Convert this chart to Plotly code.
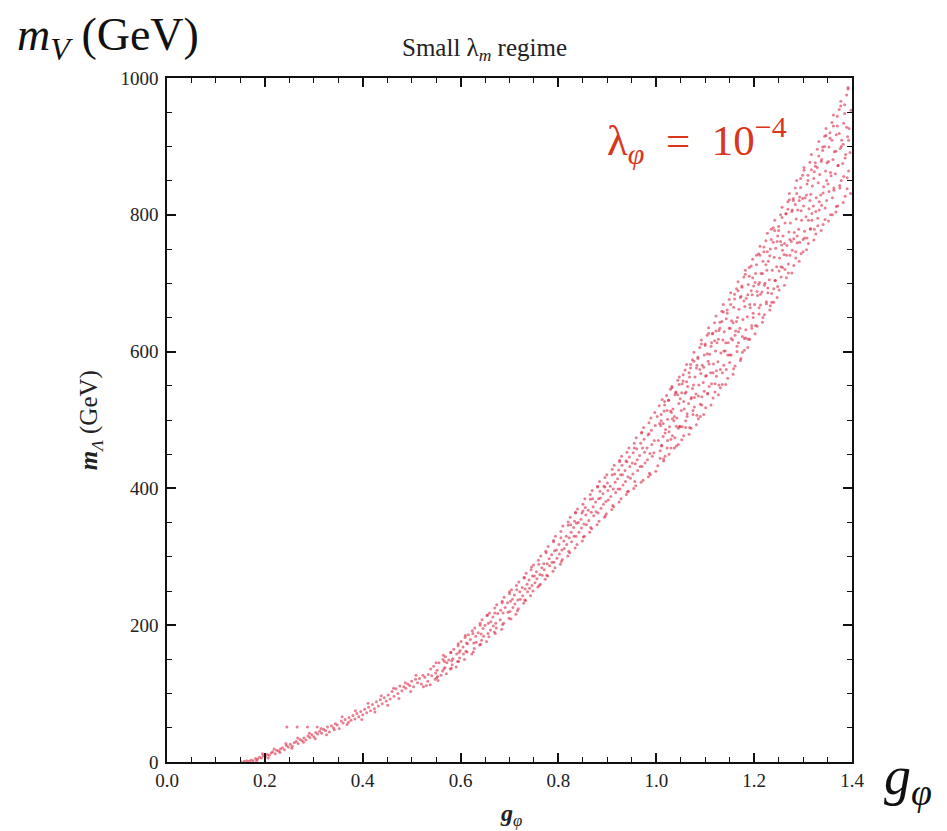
import plotly.graph_objects as go

# (g_phi, m_V in GeV), split by region
band_low = [
    (0.152, 0), (0.158, 1), (0.163, 2), (0.168, 1), (0.172, 3), (0.176, 2), (0.181, 5), (0.185, 4),
    (0.189, 7), (0.193, 6), (0.197, 9), (0.201, 8), (0.205, 11), (0.209, 10), (0.213, 13), (0.216, 15),
    (0.221, 12), (0.224, 17), (0.228, 16), (0.232, 19), (0.236, 21), (0.240, 18), (0.244, 24), (0.248, 22),
    (0.252, 26), (0.256, 23), (0.260, 28), (0.264, 30), (0.268, 27), (0.272, 33), (0.276, 31), (0.280, 35),
    (0.284, 32), (0.288, 38), (0.292, 36), (0.296, 40), (0.300, 37), (0.304, 43), (0.308, 41), (0.312, 45),
    (0.316, 42), (0.320, 48), (0.324, 46), (0.328, 51), (0.332, 44), (0.336, 53), (0.340, 50), (0.344, 56),
    (0.348, 54), (0.352, 49), (0.356, 60), (0.360, 57), (0.364, 62), (0.368, 55), (0.372, 65), (0.376, 61),
    (0.380, 68), (0.384, 63), (0.388, 71), (0.392, 66), (0.396, 74), (0.400, 69), (0.404, 77), (0.408, 72),
    (0.412, 80), (0.416, 75), (0.420, 84), (0.424, 78), (0.428, 88), (0.432, 82), (0.436, 91), (0.440, 85),
    (0.444, 94), (0.448, 89), (0.452, 98), (0.456, 92), (0.460, 103), (0.464, 96), (0.468, 107), (0.472, 100),
    (0.476, 111), (0.480, 104), (0.484, 110), (0.488, 108), (0.492, 114), (0.496, 112), (0.500, 118), (0.504, 110),
    (0.508, 121), (0.512, 116), (0.516, 122), (0.520, 114),
]

band_low_fill = [
    (0.183, 2), (0.195, 12), (0.207, 6), (0.219, 19), (0.231, 14), (0.243, 27), (0.255, 20), (0.267, 35),
    (0.279, 29), (0.291, 42), (0.303, 34), (0.315, 49), (0.326, 40), (0.342, 47), (0.358, 66), (0.371, 58),
    (0.385, 75), (0.398, 62), (0.411, 86), (0.425, 73), (0.438, 97), (0.451, 83), (0.463, 108), (0.474, 93),
    (0.487, 116), (0.498, 103), (0.509, 127),
]

band_stray = [(0.245, 51), (0.266, 51), (0.287, 51), (0.307, 51)]

band_mid = [
    (0.524, 110), (0.527, 124), (0.523, 127), (0.533, 118), (0.530, 112), (0.534, 128),
    (0.538, 113), (0.541, 126), (0.539, 136), (0.548, 121), (0.545, 140), (0.549, 130),
    (0.553, 125), (0.556, 145), (0.554, 119), (0.563, 133), (0.560, 127), (0.564, 150),
    (0.568, 138), (0.571, 129), (0.569, 154), (0.572, 145), (0.579, 136), (0.576, 149), (0.580, 160),
    (0.583, 142), (0.586, 165), (0.584, 151), (0.594, 147), (0.591, 139), (0.595, 170), (0.592, 158),
    (0.598, 152), (0.601, 176), (0.599, 163), (0.608, 150), (0.605, 168), (0.609, 182), (0.606, 158),
    (0.613, 161), (0.616, 186), (0.614, 173), (0.623, 158), (0.620, 179), (0.624, 192),
    (0.628, 166), (0.631, 184), (0.629, 196), (0.632, 175), (0.639, 171), (0.636, 189), (0.640, 203),
    (0.643, 178), (0.646, 195), (0.644, 208), (0.647, 184), (0.653, 176), (0.650, 200), (0.654, 214),
    (0.658, 183), (0.661, 193), (0.659, 218), (0.662, 205), (0.669, 190), (0.666, 212), (0.670, 225), (0.667, 199),
    (0.673, 196), (0.676, 217), (0.674, 230), (0.684, 194), (0.681, 208), (0.685, 235), (0.682, 222),
    (0.688, 203), (0.691, 226), (0.689, 241), (0.699, 210), (0.696, 233), (0.700, 246), (0.697, 219),
    (0.703, 209), (0.706, 238), (0.704, 252), (0.707, 226), (0.713, 216), (0.710, 244), (0.714, 258), (0.711, 231),
    (0.718, 224), (0.721, 249), (0.719, 263), (0.722, 238), (0.729, 232), (0.726, 255), (0.730, 270), (0.727, 243),
    (0.733, 236), (0.736, 260), (0.734, 276), (0.737, 249), (0.743, 243), (0.740, 266), (0.744, 281), (0.741, 254),
    (0.748, 250), (0.751, 272), (0.749, 288), (0.752, 262), (0.758, 256), (0.755, 278), (0.759, 295), (0.756, 268),
    (0.763, 260), (0.766, 284), (0.764, 301), (0.767, 273), (0.773, 267), (0.770, 290), (0.774, 308), (0.771, 281),
    (0.778, 272), (0.781, 297), (0.779, 315), (0.782, 287), (0.789, 279), (0.786, 303), (0.790, 322), (0.787, 292),
    (0.793, 284), (0.796, 310), (0.794, 330), (0.797, 298), (0.804, 289), (0.801, 318), (0.805, 337), (0.802, 304),
    (0.808, 296), (0.811, 323), (0.809, 345), (0.812, 312), (0.819, 301), (0.816, 330), (0.820, 351), (0.817, 318),
    (0.823, 306), (0.826, 336), (0.824, 358), (0.827, 322), (0.825, 347),
    (0.834, 313), (0.831, 343), (0.835, 364), (0.832, 330), (0.833, 352),
    (0.838, 318), (0.841, 350), (0.839, 370), (0.842, 336),
    (0.849, 323), (0.846, 355), (0.850, 377), (0.847, 342), (0.848, 364),
    (0.853, 330), (0.856, 361), (0.854, 385), (0.857, 347), (0.855, 372),
    (0.864, 336), (0.861, 368), (0.865, 391), (0.862, 353),
    (0.868, 341), (0.871, 373), (0.869, 397), (0.872, 360), (0.870, 385),
    (0.879, 347), (0.876, 380), (0.880, 403), (0.877, 366),
    (0.883, 352), (0.886, 386), (0.884, 410), (0.887, 371), (0.885, 396),
    (0.894, 358), (0.891, 392), (0.895, 416), (0.892, 377), (0.893, 403),
    (0.898, 363), (0.901, 397), (0.899, 420), (0.902, 383), (0.900, 408),
    (0.909, 369), (0.906, 403), (0.910, 428), (0.907, 388),
    (0.913, 373), (0.916, 409), (0.914, 434), (0.917, 394), (0.915, 421),
    (0.924, 380), (0.921, 414), (0.925, 441), (0.922, 399), (0.923, 427),
    (0.928, 385), (0.931, 420), (0.929, 447), (0.932, 405), (0.930, 434),
    (0.939, 391), (0.936, 426), (0.940, 453), (0.937, 410), (0.938, 440),
    (0.943, 396), (0.946, 432), (0.944, 459), (0.947, 415), (0.945, 446),
    (0.954, 400), (0.951, 437), (0.955, 466), (0.952, 421), (0.953, 452),
    (0.958, 404), (0.961, 442), (0.959, 474), (0.962, 426), (0.960, 458),
    (0.969, 409), (0.966, 448), (0.970, 482), (0.967, 432), (0.968, 466),
    (0.973, 412), (0.976, 453), (0.974, 489), (0.977, 437), (0.975, 472),
    (0.984, 417), (0.981, 459), (0.985, 496), (0.982, 442), (0.983, 478),
    (0.988, 420), (0.991, 464), (0.989, 503), (0.992, 447), (0.990, 485),
    (0.999, 425), (0.996, 470), (0.997, 511), (0.995, 452), (0.998, 492),
]

band_mid_fill = [
    (0.551, 123), (0.552, 134), (0.550, 145), (0.566, 136), (0.567, 147), (0.565, 156),
    (0.581, 137), (0.582, 148), (0.580, 160), (0.596, 147), (0.597, 160), (0.595, 173),
    (0.611, 162), (0.612, 174), (0.610, 185), (0.626, 161), (0.627, 174), (0.625, 188),
    (0.641, 172), (0.642, 187), (0.640, 200), (0.656, 188), (0.657, 203), (0.655, 215),
    (0.671, 188), (0.672, 203), (0.670, 218), (0.686, 201), (0.687, 218), (0.685, 233),
    (0.701, 220), (0.702, 235), (0.700, 249), (0.716, 221), (0.717, 237), (0.715, 252),
    (0.731, 237), (0.732, 253), (0.730, 269), (0.746, 258), (0.747, 272), (0.745, 285),
    (0.761, 258), (0.762, 274), (0.760, 289), (0.776, 273), (0.777, 290), (0.775, 306),
    (0.791, 292), (0.792, 309), (0.790, 324), (0.806, 293), (0.807, 310), (0.805, 328),
    (0.821, 308), (0.822, 328), (0.820, 346), (0.836, 330), (0.837, 349), (0.835, 365),
    (0.851, 329), (0.852, 348), (0.850, 367), (0.866, 343), (0.867, 365), (0.865, 384),
    (0.881, 364), (0.882, 385), (0.880, 402), (0.896, 360), (0.897, 381), (0.895, 402),
    (0.911, 375), (0.912, 399), (0.910, 420), (0.926, 399), (0.927, 420), (0.925, 439),
    (0.941, 395), (0.942, 417), (0.940, 439), (0.956, 410), (0.957, 436), (0.955, 459),
    (0.971, 432), (0.972, 459), (0.970, 481), (0.986, 422), (0.987, 451), (0.985, 480),
]

band_high = [
    (1.003, 433), (1.008, 455), (1.004, 470), (1.009, 492), (1.002, 505), (1.006, 521),
    (1.015, 440), (1.011, 463), (1.014, 476), (1.010, 499), (1.016, 513), (1.012, 530),
    (1.018, 447), (1.022, 459), (1.019, 486), (1.023, 501), (1.017, 522), (1.021, 536),
    (1.026, 450), (1.030, 472), (1.027, 490), (1.031, 511), (1.025, 529), (1.029, 545),
    (1.037, 459), (1.033, 477), (1.036, 499), (1.034, 516), (1.038, 537), (1.032, 549),
    (1.041, 462), (1.045, 488), (1.042, 503), (1.046, 524), (1.040, 541), (1.044, 558),
    (1.052, 471), (1.048, 490), (1.051, 514), (1.049, 531), (1.053, 553), (1.047, 563),
    (1.056, 477), (1.060, 499), (1.057, 516), (1.061, 541), (1.055, 557), (1.059, 573),
    (1.067, 479), (1.063, 505), (1.066, 524), (1.064, 549), (1.068, 563), (1.062, 581),
    (1.071, 488), (1.075, 508), (1.072, 533), (1.076, 551), (1.070, 576), (1.074, 588),
    (1.082, 493), (1.078, 519), (1.081, 538), (1.079, 563), (1.083, 580), (1.077, 599),
    (1.086, 502), (1.090, 523), (1.087, 551), (1.091, 568), (1.085, 592), (1.089, 606),
    (1.097, 508), (1.093, 534), (1.096, 555), (1.094, 580), (1.098, 595), (1.092, 617),
    (1.101, 518), (1.105, 538), (1.102, 565), (1.106, 586), (1.100, 609), (1.104, 624),
    (1.112, 522), (1.108, 549), (1.111, 569), (1.109, 596), (1.113, 613), (1.107, 635),
    (1.116, 532), (1.120, 553), (1.117, 582), (1.121, 601), (1.115, 627), (1.119, 642),
    (1.127, 537), (1.123, 564), (1.126, 585), (1.124, 613), (1.128, 631), (1.122, 652),
    (1.131, 547), (1.135, 569), (1.132, 598), (1.136, 617), (1.130, 643), (1.134, 659),
    (1.142, 552), (1.138, 580), (1.141, 601), (1.139, 629), (1.143, 648), (1.137, 669),
    (1.146, 561), (1.150, 584), (1.147, 613), (1.151, 634), (1.145, 661), (1.149, 676),
    (1.157, 567), (1.153, 595), (1.156, 617), (1.154, 645), (1.158, 665), (1.152, 686),
    (1.161, 579), (1.165, 600), (1.162, 630), (1.166, 650), (1.160, 677), (1.164, 692),
    (1.172, 587), (1.168, 613), (1.171, 634), (1.169, 662), (1.173, 681), (1.167, 702),
    (1.176, 599), (1.180, 619), (1.177, 647), (1.181, 666), (1.175, 694), (1.179, 709),
    (1.187, 606), (1.183, 632), (1.186, 651), (1.184, 678), (1.188, 698), (1.182, 719),
    (1.191, 618), (1.195, 638), (1.192, 664), (1.196, 683), (1.190, 710), (1.194, 725),
    (1.202, 626), (1.198, 650), (1.201, 669), (1.199, 696), (1.203, 714), (1.197, 735),
    (1.206, 637), (1.210, 655), (1.207, 682), (1.211, 701), (1.205, 727), (1.209, 743),
    (1.217, 643), (1.213, 668), (1.216, 687), (1.214, 714), (1.218, 732), (1.212, 754),
    (1.221, 654), (1.225, 673), (1.222, 700), (1.226, 719), (1.220, 746), (1.224, 762),
    (1.232, 661), (1.228, 686), (1.231, 705), (1.229, 732), (1.233, 750), (1.227, 773),
    (1.236, 672), (1.240, 692), (1.237, 719), (1.241, 738), (1.235, 764), (1.239, 781),
    (1.247, 679), (1.243, 704), (1.246, 724), (1.244, 751), (1.248, 769), (1.242, 792),
    (1.251, 690), (1.255, 709), (1.252, 737), (1.256, 756), (1.250, 783), (1.254, 800),
    (1.262, 697), (1.258, 723), (1.261, 742), (1.259, 769), (1.263, 788), (1.257, 811),
    (1.266, 708), (1.270, 728), (1.267, 755), (1.271, 775), (1.265, 802), (1.269, 819),
    (1.277, 715), (1.273, 741), (1.276, 761), (1.274, 788), (1.278, 807), (1.272, 831),
    (1.281, 726), (1.285, 746), (1.282, 774), (1.286, 794), (1.280, 821), (1.284, 839),
    (1.292, 732), (1.288, 759), (1.291, 779), (1.289, 807), (1.293, 826), (1.287, 850),
    (1.296, 743), (1.300, 764), (1.297, 792), (1.301, 813), (1.295, 840), (1.299, 858),
    (1.307, 749), (1.303, 776), (1.306, 797), (1.304, 825), (1.308, 845), (1.302, 869),
    (1.311, 758), (1.315, 780), (1.312, 809), (1.316, 830), (1.310, 858), (1.314, 877),
    (1.322, 763), (1.318, 792), (1.321, 813), (1.319, 842), (1.323, 863), (1.317, 888),
    (1.326, 772), (1.330, 795), (1.327, 825), (1.331, 847), (1.325, 876), (1.329, 896),
    (1.337, 777), (1.333, 807), (1.336, 829), (1.334, 859), (1.338, 881), (1.332, 907),
    (1.341, 786), (1.345, 810), (1.342, 841), (1.346, 864), (1.340, 894), (1.344, 915),
    (1.352, 791), (1.348, 821), (1.351, 845), (1.349, 876), (1.353, 899), (1.347, 926),
    (1.356, 800), (1.360, 825), (1.357, 857), (1.361, 881), (1.355, 912), (1.359, 935),
    (1.367, 804), (1.363, 836), (1.366, 860), (1.364, 892), (1.368, 917), (1.362, 946),
    (1.371, 813), (1.375, 839), (1.372, 872), (1.376, 897), (1.370, 930), (1.374, 954),
    (1.382, 818), (1.378, 850), (1.381, 875), (1.379, 909), (1.383, 934), (1.377, 966),
    (1.386, 827), (1.390, 854), (1.387, 888), (1.391, 914), (1.385, 948), (1.389, 975),
    (1.397, 831), (1.393, 864), (1.396, 891), (1.394, 926), (1.398, 953), (1.392, 986),
]

band_high_fill = [
    (1.008, 444), (1.011, 462), (1.007, 495), (1.010, 508), (1.015, 443), (1.018, 481), (1.014, 495), (1.017, 527),
    (1.023, 470), (1.026, 483), (1.022, 514), (1.025, 529), (1.030, 459), (1.033, 502), (1.029, 513), (1.032, 547),
    (1.038, 474), (1.041, 491), (1.037, 505), (1.040, 540), (1.045, 464), (1.048, 491), (1.044, 537), (1.047, 552),
    (1.053, 490), (1.056, 527), (1.052, 540), (1.055, 566), (1.060, 489), (1.063, 509), (1.059, 539), (1.062, 556),
    (1.068, 489), (1.071, 531), (1.067, 569), (1.070, 581), (1.075, 514), (1.078, 533), (1.074, 546), (1.077, 586),
    (1.083, 507), (1.086, 535), (1.082, 576), (1.085, 590), (1.090, 505), (1.093, 522), (1.089, 574), (1.092, 611),
    (1.098, 542), (1.101, 564), (1.097, 577), (1.100, 611), (1.105, 539), (1.108, 582), (1.104, 597), (1.107, 627),
    (1.113, 553), (1.116, 569), (1.112, 608), (1.115, 626), (1.120, 541), (1.123, 572), (1.119, 616), (1.122, 630),
    (1.128, 551), (1.131, 574), (1.127, 618), (1.130, 634), (1.135, 552), (1.138, 601), (1.134, 644), (1.137, 658),
    (1.143, 574), (1.146, 595), (1.142, 613), (1.145, 656), (1.150, 595), (1.153, 619), (1.149, 634), (1.152, 669),
    (1.158, 575), (1.161, 624), (1.157, 642), (1.160, 684), (1.165, 608), (1.168, 629), (1.164, 644), (1.167, 689),
    (1.173, 590), (1.176, 622), (1.172, 679), (1.175, 696), (1.180, 602), (1.183, 620), (1.179, 674), (1.182, 713),
    (1.188, 618), (1.191, 669), (1.187, 683), (1.190, 723), (1.195, 634), (1.198, 656), (1.194, 689), (1.197, 708),
    (1.203, 638), (1.206, 688), (1.202, 701), (1.205, 741), (1.210, 664), (1.213, 684), (1.209, 698), (1.212, 741),
    (1.218, 650), (1.221, 697), (1.217, 714), (1.220, 753), (1.225, 670), (1.228, 693), (1.224, 727), (1.227, 746),
    (1.233, 667), (1.236, 685), (1.232, 740), (1.235, 779), (1.240, 672), (1.243, 704), (1.239, 760), (1.242, 777),
    (1.248, 695), (1.251, 718), (1.247, 761), (1.250, 777), (1.255, 724), (1.258, 748), (1.254, 761), (1.257, 796),
    (1.263, 720), (1.266, 741), (1.262, 758), (1.265, 801), (1.270, 715), (1.273, 764), (1.269, 808), (1.272, 822),
    (1.278, 748), (1.281, 765), (1.277, 805), (1.280, 824), (1.285, 737), (1.288, 769), (1.284, 815), (1.287, 831),
    (1.293, 760), (1.296, 806), (1.292, 821), (1.295, 853), (1.300, 746), (1.303, 766), (1.299, 824), (1.302, 865),
    (1.308, 766), (1.311, 792), (1.307, 829), (1.310, 850), (1.315, 779), (1.318, 802), (1.314, 821), (1.317, 866),
    (1.323, 779), (1.326, 805), (1.322, 853), (1.325, 871), (1.330, 784), (1.333, 819), (1.329, 869), (1.332, 886),
    (1.338, 814), (1.341, 832), (1.337, 878), (1.340, 899), (1.345, 793), (1.348, 850), (1.344, 900), (1.347, 916),
    (1.353, 834), (1.356, 862), (1.352, 878), (1.355, 920), (1.360, 800), (1.363, 839), (1.359, 909), (1.362, 930),
    (1.368, 812), (1.371, 872), (1.367, 893), (1.370, 944), (1.375, 843), (1.378, 900), (1.374, 919), (1.377, 959),
    (1.383, 856), (1.386, 883), (1.382, 903), (1.385, 961), (1.390, 838), (1.393, 909), (1.389, 928), (1.392, 984),
]

x_ticks = [0.0, 0.2, 0.4, 0.6, 0.8, 1.0, 1.2, 1.4]
y_ticks = [0, 200, 400, 600, 800, 1000]

DOT = "rgba(216,44,70,0.6)"
SERIF = "Liberation Serif"

all_pts = band_low + band_low_fill + band_stray + band_mid + band_mid_fill + band_high + band_high_fill
g_vals = [p[0] for p in all_pts]
m_vals = [p[1] for p in all_pts]

fig = go.Figure()
fig.add_trace(go.Scatter(
    x=g_vals, y=m_vals, mode="markers",
    marker=dict(size=3, color=DOT, line=dict(width=0)),
    showlegend=False, hoverinfo="skip",
))

axis_common = dict(
    showgrid=False, zeroline=False, showline=True, linecolor="#111", linewidth=1.6,
    mirror="ticks", ticks="inside", ticklen=9, tickwidth=1.6, tickcolor="#111",
    tickfont=dict(family=SERIF, size=19, color="#222"),
)
fig.update_xaxes(range=[0, 1.4], tickvals=x_ticks, ticktext=[f"{v:.1f}" for v in x_ticks],
                 minor=dict(dtick=0.05, tick0=0, ticks="inside", ticklen=5, tickwidth=1.3, tickcolor="#111"),
                 **axis_common)
fig.update_yaxes(range=[0, 1000], tickvals=y_ticks,
                 minor=dict(dtick=50, tick0=0, ticks="inside", ticklen=5, tickwidth=1.3, tickcolor="#111"),
                 ticklabelstandoff=3, **axis_common)

# page body adds an 8px offset, margins compensate so the frame sits where the reference has it
fig.update_layout(
    width=947, height=831, autosize=False,
    margin=dict(l=159, r=103, t=70, b=77),
    paper_bgcolor="white", plot_bgcolor="white",
    font=dict(family=SERIF, color="#111"),
)

notes = [
    dict(text="<i>m</i><sub><i>V</i></sub> (GeV)", x=-0.222, y=1.058, xanchor="left", yanchor="middle",
         font=dict(family=SERIF, size=46, color="#111")),
    dict(text="Small λ<sub><i>m</i></sub> regime", x=0.464, y=1.041, xanchor="center", yanchor="middle",
         font=dict(family=SERIF, size=25, color="#222")),
    dict(text="λ<sub><i>φ</i></sub>\u2002=\u200210<sup>−4</sup>", x=0.639, y=0.909, xanchor="left", yanchor="middle",
         font=dict(family=SERIF, size=43, color="#D9361C")),
    dict(text="<i>g</i><sub><i>φ</i></sub>", x=1.044, y=-0.026, xanchor="left", yanchor="middle",
         font=dict(family=SERIF, size=54, color="#111")),
    dict(text="<b><i>m</i></b><sub><i>Λ</i></sub> (GeV)", x=-0.112, y=0.5, xanchor="center", yanchor="middle",
         textangle=-90, font=dict(family=SERIF, size=25, color="#222")),
    dict(text="<b><i>g</i></b><sub><i>φ</i></sub>", x=0.502, y=-0.078, xanchor="center", yanchor="middle",
         font=dict(family=SERIF, size=24, color="#222")),
]
for n in notes:
    fig.add_annotation(xref="paper", yref="paper", showarrow=False, **n)

fig.write_html("out.html")
